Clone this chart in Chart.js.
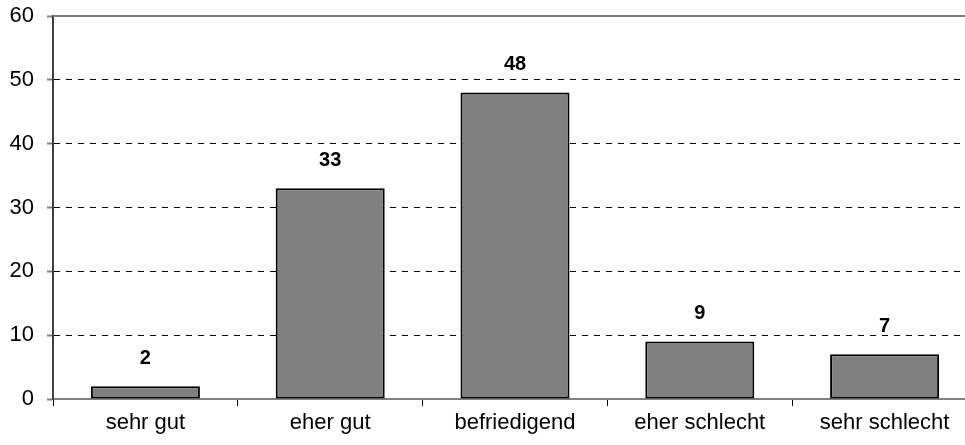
<!DOCTYPE html>
<html>
<head>
<meta charset="utf-8">
<script src="https://cdn.jsdelivr.net/npm/chart.js@4/dist/chart.umd.min.js"></script>
<style>
html, body { margin: 0; padding: 0; background: #fff; overflow: hidden; }
#wrap { width: 990px; height: 445px; }
</style>
</head>
<body>
<div id="wrap"><canvas id="barChart" width="990" height="445"></canvas></div>
<script>
var categories = ["sehr gut", "eher gut", "befriedigend", "eher schlecht", "sehr schlecht"];
var values = [2, 33, 48, 9, 7];
var yTicks = [0, 10, 20, 30, 40, 50, 60];

// value labels above bars + solid top line at 60
var valueLabels = {
  id: "valueLabels",
  afterDatasetsDraw: function(chart) {
    var ctx = chart.ctx;
    var meta = chart.getDatasetMeta(0);
    ctx.save();
    ctx.font = "bold 20px 'Liberation Sans', Arial, sans-serif";
    ctx.fillStyle = "#000";
    ctx.textAlign = "center";
    ctx.textBaseline = "middle";
    meta.data.forEach(function(bar, i) {
      ctx.fillText(values[i], bar.x, bar.y - 28);
    });
    var y = chart.scales.y;
    var top = y.getPixelForValue(60);
    ctx.strokeStyle = "#808080";
    ctx.lineWidth = 2;
    ctx.beginPath();
    ctx.moveTo(chart.chartArea.left, top);
    ctx.lineTo(chart.chartArea.right, top);
    ctx.stroke();
    ctx.restore();
  }
};

var barCtx = document.getElementById("barChart").getContext("2d");
new Chart(barCtx, {
  type: "bar",
  data: {
    labels: categories,
    datasets: [{
      data: values,
      backgroundColor: "#808080",
      borderColor: "#000",
      borderWidth: 2,
      borderSkipped: false,
      barPercentage: 0.59,
      categoryPercentage: 1
    }]
  },
  options: {
    responsive: false,
    animation: false,
    layout: { padding: { top: 16, right: 13, left: 0, bottom: 0 } },
    plugins: { legend: { display: false }, tooltip: { enabled: false } },
    scales: {
      x: {
        grid: { drawOnChartArea: false, drawTicks: true, tickLength: 7, color: "#000", offset: true },
        border: { color: "#808080", width: 2 },
        ticks: { color: "#000", padding: 4, font: { family: "'Liberation Sans', Arial, sans-serif", size: 22 } },
        afterFit: function(s) { s.height = 46; s.paddingLeft = 0; s.paddingRight = 0; }
      },
      y: {
        min: 0,
        max: 60,
        afterBuildTicks: function(s) { s.ticks = yTicks.map(function(v) { return { value: v }; }); },
        grid: {
          color: function(c) { return (c.tick && (c.tick.value === 0 || c.tick.value === 60)) ? "rgba(0,0,0,0)" : "#000"; },
          tickColor: "#808080",
          tickLength: 6,
          tickWidth: 2,
          lineWidth: 1,
          tickBorderDash: []
        },
        border: { color: "#404040", width: 2, dash: [6, 6] },
        ticks: { color: "#000", padding: 13, font: { family: "'Liberation Sans', Arial, sans-serif", size: 22 } },
        afterFit: function(s) { s.width = 53; s.paddingTop = 0; s.paddingBottom = 0; }
      }
    }
  },
  plugins: [valueLabels]
});
</script>
</body>
</html>
